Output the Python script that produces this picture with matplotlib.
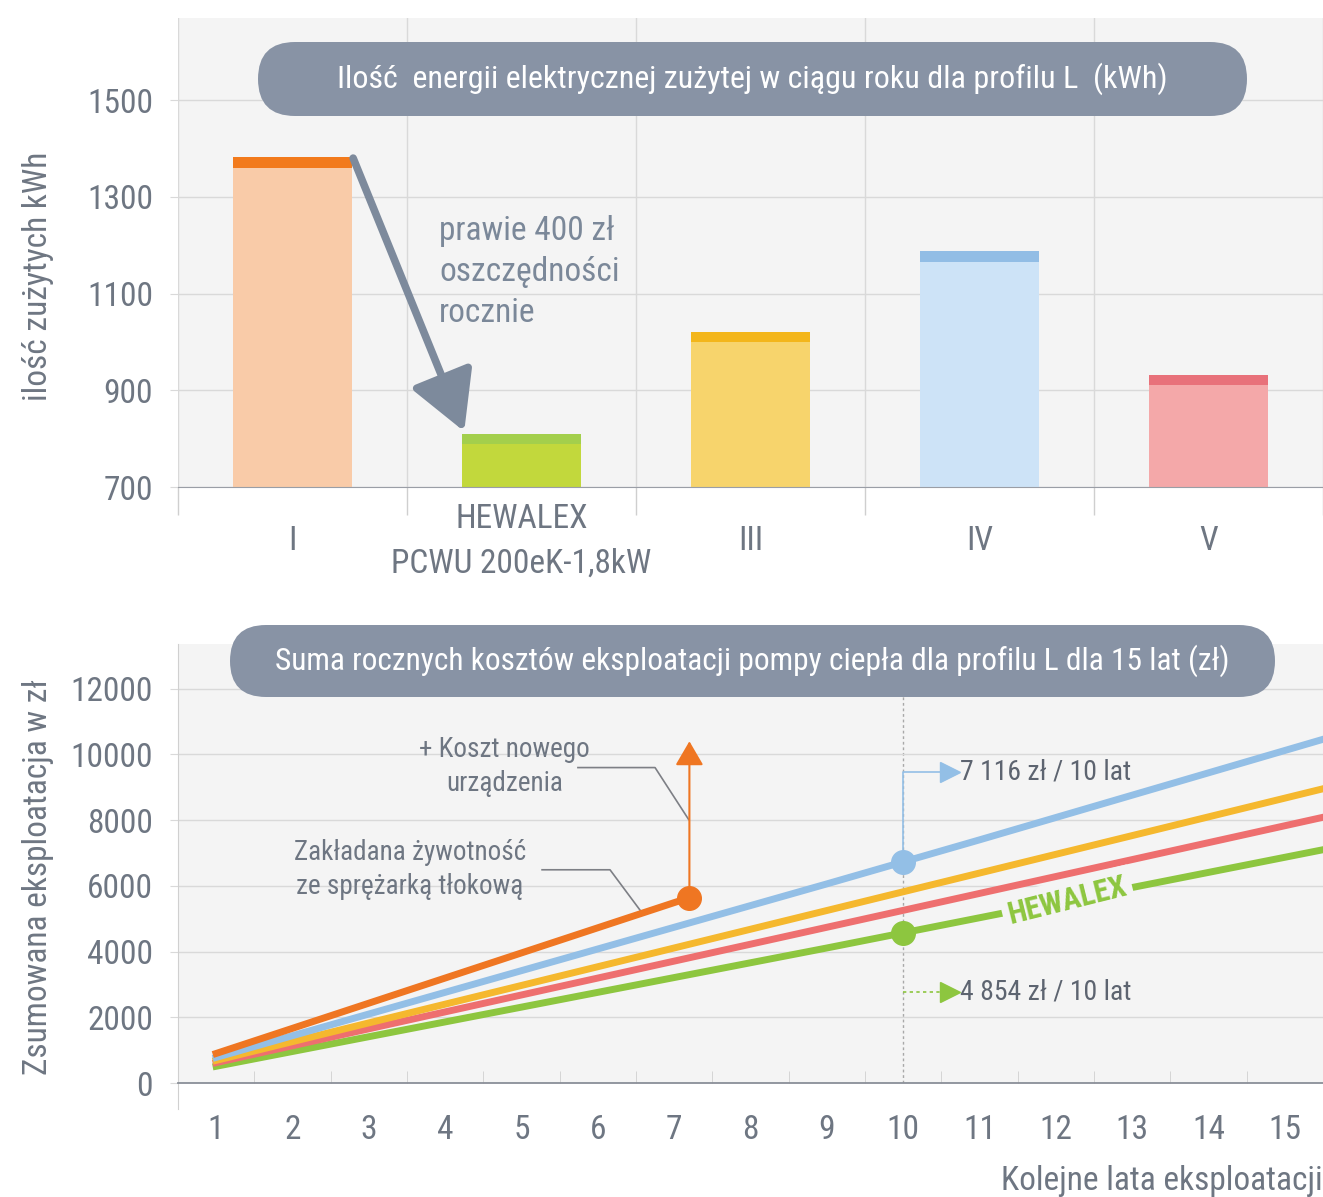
import numpy as np
import matplotlib
matplotlib.use("Agg")
import matplotlib.pyplot as plt
from matplotlib import font_manager
from matplotlib.patches import FancyBboxPatch
from matplotlib.transforms import blended_transform_factory

# dane - wykres slupkowy (kWh / rok)
categories = ["I", "HEWALEX\nPCWU 200eK-1,8kW", "III", "IV", "V"]
energy_kwh = [1382, 810, 1021, 1187, 932]
bar_light = ["#f9cba8", "#c2d83c", "#f7d46c", "#cde3f7", "#f4a8a9"]
bar_dark = ["#f27a1c", "#a3cf4c", "#f3b61b", "#92bde5", "#e8717a"]

# dane - koszty skumulowane (zl)
years = list(range(1, 17))
year_labels = [str(i) for i in range(1, 16)]
orange_years = [1, 2, 3, 4, 5, 6, 7, 7.2]
orange_cost = [900, 1665, 2430, 3195, 3960, 4725, 5490, 5640]
blue_cost = [780, 1440, 2100, 2760, 3420, 4080, 4740, 5400, 6060, 6730,
             7400, 8080, 8760, 9440, 10120, 10800]
yellow_cost = [690, 1260, 1830, 2400, 2970, 3540, 4110, 4680, 5250, 5820,
               6390, 6960, 7530, 8100, 8670, 9240]
red_cost = [620, 1135, 1650, 2165, 2680, 3195, 3710, 4225, 4740, 5255,
            5770, 6285, 6800, 7315, 7830, 8345]
green_cost = [510, 960, 1410, 1860, 2310, 2760, 3210, 3660, 4110, 4570,
              5030, 5490, 5950, 6410, 6870, 7330]
new_device_top = 10400
blue_note_y = 9480
green_note_y = 2780

names = {f.name for f in font_manager.fontManager.ttflist}
fam = "DejaVu Sans"
for cand in ["Roboto Condensed", "Liberation Sans Narrow", "Roboto"]:
    if cand in names:
        fam = cand
        break
plt.rcParams["font.family"] = [fam, "DejaVu Sans"]

txt = "#6e7682"
bg = "#f4f4f4"
grid = "#d9d9d9"
pill = "#8893a5"

fig = plt.figure(figsize=(13.23, 11.97), dpi=100)

# ---------- gorny wykres ----------
ax1 = fig.add_axes([0.1345, 0.5931, 0.8655, 0.392])
ax1.set_facecolor(bg)
x = np.arange(len(categories))
cap = 22
ax1.bar(x, energy_kwh, width=0.52, color=bar_light, zorder=2)
ax1.bar(x, cap, bottom=np.array(energy_kwh) - cap, width=0.52, color=bar_dark, zorder=3)
ax1.set_ylim(700, 1670)
ax1.set_xlim(-0.5, 4.5)
ax1.set_yticks([700, 900, 1100, 1300, 1500])
ax1.set_xticks([])
ax1.set_xticks(np.arange(-0.5, 5, 1), minor=True)
ax1.tick_params(axis="x", which="minor", length=20, color="#cfcfcf", width=1, direction="out")
ax1.tick_params(axis="y", length=6, color=grid, labelsize=24, labelcolor=txt, pad=12)
ax1.grid(axis="y", color=grid, lw=1, zorder=0)
ax1.grid(axis="x", which="minor", color=grid, lw=1, zorder=0)
for s in ["top", "right", "left"]:
    ax1.spines[s].set_visible(False)
ax1.spines["bottom"].set_color("#9a9ea6")
ax1.set_ylabel("ilość zużytych kWh", fontsize=24, color=txt)
ax1.yaxis.set_label_coords(-0.108, 0.45)
tr = blended_transform_factory(ax1.transData, ax1.transAxes)
for i, lab in enumerate(categories):
    ax1.text(i, -0.115, lab, transform=tr, ha="center", va="center",
             fontsize=24, color=txt, linespacing=1.5)

ax1.annotate("", xy=(0.75, 815), xytext=(0.265, 1380),
             arrowprops=dict(arrowstyle="-|>,head_length=0.9,head_width=0.5",
                             color="#7d8a9c", lw=5.5, mutation_scale=40,
                             shrinkA=0, shrinkB=0), zorder=4)
ax1.text(0.64, 1262, "prawie 400 zł\noszczędności\nrocznie", fontsize=24,
         color="#7b8899", va="top", ha="left", linespacing=1.35)

# ---------- dolny wykres ----------
ax2 = fig.add_axes([0.1345, 0.0952, 0.8655, 0.3665])
ax2.set_facecolor(bg)
ax2.set_xlim(0.5, 15.5)
ax2.set_ylim(0, 13350)
ax2.set_yticks(range(0, 12001, 2000))
ax2.set_xticks(range(1, 16), year_labels)
ax2.set_xticks(np.arange(1.5, 15, 1), minor=True)
ax2.tick_params(axis="x", which="major", length=0, labelsize=24, labelcolor=txt, pad=22)
ax2.tick_params(axis="x", which="minor", length=9, color="#cfcfcf", direction="in")
ax2.tick_params(axis="y", length=6, color=grid, labelsize=24, labelcolor=txt, pad=12)
ax2.grid(axis="y", color=grid, lw=1, zorder=0)
for s in ["top", "right"]:
    ax2.spines[s].set_visible(False)
ax2.spines["left"].set_color("#d0d0d0")
ax2.spines["left"].set_bounds(-800, 13350)
ax2.spines["bottom"].set_color("#8a8f98")
ax2.spines["bottom"].set_linewidth(1.3)
ax2.set_ylabel("Zsumowana eksploatacja w zł", fontsize=24, color=txt)
ax2.yaxis.set_label_coords(-0.108, 0.47)
ax2.set_xlabel("Kolejne lata eksploatacji", fontsize=24, color=txt, loc="right", labelpad=14)

ax2.axvline(10, color="#a8a8a8", lw=1, ls=(0, (2, 2)), ymax=0.93, zorder=1)

lw = 5
ax2.plot(years, green_cost, color="#8dc63f", lw=lw, zorder=3)
ax2.plot(years, red_cost, color="#ee6f6f", lw=lw, zorder=3)
ax2.plot(years, yellow_cost, color="#f5b82e", lw=lw, zorder=3)
ax2.plot(years, blue_cost, color="#93bfe6", lw=lw, zorder=4)
ax2.plot(orange_years, orange_cost, color="#ef7622", lw=lw, zorder=5)

# punkty i adnotacje
ax2.plot(orange_years[-1], orange_cost[-1], "o", ms=17, color="#ef7622", zorder=6)
ax2.plot(10, blue_cost[9], "o", ms=17, color="#93bfe6", zorder=6)
ax2.plot(10, green_cost[9], "o", ms=17, color="#8dc63f", zorder=6)

ax2.annotate("", xy=(orange_years[-1], new_device_top), xytext=(orange_years[-1], orange_cost[-1]),
             arrowprops=dict(arrowstyle="-|>,head_length=0.6,head_width=0.35",
                             color="#ef7622", lw=1.5, mutation_scale=25, shrinkA=0, shrinkB=0),
             zorder=5)

ax2.plot([10, 10, 10.62], [blue_cost[9], blue_note_y, blue_note_y], color="#93bfe6", lw=1.2, zorder=5)
ax2.plot(10.62, blue_note_y, ">", ms=14, color="#93bfe6", zorder=6)
ax2.text(10.75, blue_note_y, "7 116 zł / 10 lat", fontsize=20, color="#5d6470",
         va="center", ha="left", zorder=6)

ax2.plot([10, 10.62], [green_note_y, green_note_y], color="#8dc63f", lw=1.2,
         ls=(0, (2, 2)), zorder=5)
ax2.plot(10.62, green_note_y, ">", ms=14, color="#8dc63f", zorder=6)
ax2.text(10.75, green_note_y, "4 854 zł / 10 lat", fontsize=20, color="#5d6470",
         va="center", ha="left", zorder=6)

ax2.text(12.15, 5560, "HEWALEX", fontsize=22, color="#8dc63f", fontweight="bold",
         rotation=14, ha="center", va="center", zorder=7,
         bbox=dict(facecolor=bg, edgecolor="none", pad=4))

ax2.text(4.78, 9640, "+ Koszt nowego\nurządzenia", fontsize=19.5, color=txt,
         ha="center", va="center", linespacing=1.35, zorder=6)
ax2.plot([5.74, 6.75, 7.19], [9600, 9600, 8020], color="#7d7f85", lw=1.2, zorder=4)
ax2.text(3.54, 6490, "Zakładana żywotność\nze sprężarką tłokową", fontsize=19.5, color=txt,
         ha="center", va="center", linespacing=1.35, zorder=6)
ax2.plot([5.27, 6.16, 6.57], [6490, 6490, 5210], color="#7d7f85", lw=1.2, zorder=4)

# tytuly w zaokraglonych ramkach
for (x0, y0, w, h, ty, fs, title) in [
    (2.58, 10.81, 9.89, 0.74, 11.18, 23,
     "Ilość  energii elektrycznej zużytej w ciągu roku dla profilu L  (kWh)"),
    (2.30, 5.00, 10.45, 0.72, 5.36, 22.6,
     "Suma rocznych kosztów eksploatacji pompy ciepła dla profilu L dla 15 lat (zł)"),
]:
    box = FancyBboxPatch((x0, y0), w, h,
                         boxstyle="round,pad=0,rounding_size=%f" % (h / 2),
                         transform=fig.dpi_scale_trans, facecolor=pill,
                         edgecolor="none", zorder=10)
    fig.add_artist(box)
    fig.text((x0 + w / 2) / 13.23, ty / 11.97, title, ha="center", va="center",
             fontsize=fs, color="white", zorder=11)

fig.savefig("out.png", dpi=100, facecolor="white")
